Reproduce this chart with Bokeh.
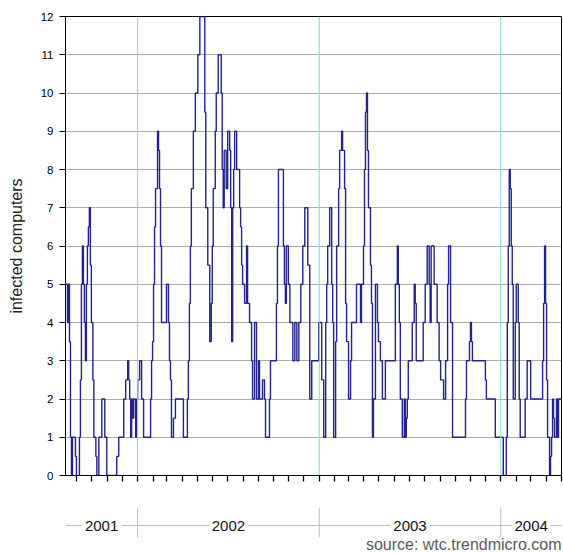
import pandas as pd
from bokeh.plotting import figure
from bokeh.models import Range1d, FixedTicker, Span, Label, CustomLabelingPolicy
from bokeh.layouts import column
from bokeh.embed import file_html
from bokeh.resources import INLINE

# Daily count of infected computers, stored as change points of a step series
change_dates = [
    "2001-08-09", "2001-08-13", "2001-08-15", "2001-08-17", "2001-08-19", "2001-08-21",
    "2001-08-23", "2001-08-29", "2001-08-31", "2001-09-06", "2001-09-08", "2001-09-10",
    "2001-09-12", "2001-09-14", "2001-09-16", "2001-09-18", "2001-09-20", "2001-09-22",
    "2001-09-24", "2001-09-26", "2001-09-28", "2001-09-30", "2001-10-03", "2001-10-05",
    "2001-10-09", "2001-10-11", "2001-10-15", "2001-10-21", "2001-10-27", "2001-10-31",
    "2001-11-20", "2001-11-24", "2001-12-04", "2001-12-08", "2001-12-12", "2001-12-14",
    "2001-12-16", "2001-12-18", "2001-12-20", "2001-12-22", "2001-12-24", "2001-12-28",
    "2001-12-30",
    "2002-01-01", "2002-01-05", "2002-01-09", "2002-01-13", "2002-01-27", "2002-01-29",
    "2002-01-31", "2002-02-02", "2002-02-04", "2002-02-06", "2002-02-10", "2002-02-12",
    "2002-02-14", "2002-02-16", "2002-02-18", "2002-02-28", "2002-03-04", "2002-03-06",
    "2002-03-08", "2002-03-10", "2002-03-14", "2002-03-18", "2002-04-03", "2002-04-11",
    "2002-04-13", "2002-04-15", "2002-04-17", "2002-04-19", "2002-04-23", "2002-04-27",
    "2002-05-02", "2002-05-06", "2002-05-16", "2002-05-18", "2002-05-22", "2002-05-26",
    "2002-05-29", "2002-05-31", "2002-06-02", "2002-06-06", "2002-06-08", "2002-06-12",
    "2002-06-18", "2002-06-20", "2002-06-22", "2002-06-24", "2002-06-28", "2002-07-01",
    "2002-07-05", "2002-07-07", "2002-07-09", "2002-07-11", "2002-07-13", "2002-07-15",
    "2002-07-19", "2002-07-25", "2002-07-27", "2002-07-29", "2002-07-31", "2002-08-04",
    "2002-08-08", "2002-08-10", "2002-08-14", "2002-08-18", "2002-08-20", "2002-08-24",
    "2002-08-28", "2002-09-01", "2002-09-03", "2002-09-09", "2002-09-13", "2002-09-15",
    "2002-09-23", "2002-09-25", "2002-10-07", "2002-10-09", "2002-10-11", "2002-10-21",
    "2002-10-23", "2002-10-25", "2002-10-27", "2002-10-31", "2002-11-03", "2002-11-09",
    "2002-11-13", "2002-11-17", "2002-11-21", "2002-11-25", "2002-11-29", "2002-12-03",
    "2002-12-09", "2002-12-13", "2002-12-17", "2002-12-31",
    "2003-01-06", "2003-01-10", "2003-01-14", "2003-01-16", "2003-01-18", "2003-01-22",
    "2003-01-26", "2003-01-28", "2003-01-30", "2003-02-03", "2003-02-05", "2003-02-09",
    "2003-02-11", "2003-02-15", "2003-02-17", "2003-02-21", "2003-02-23", "2003-02-25",
    "2003-03-01", "2003-03-05", "2003-03-07", "2003-03-17", "2003-03-25", "2003-03-27",
    "2003-03-31", "2003-04-02", "2003-04-04", "2003-04-06", "2003-04-08", "2003-04-10",
    "2003-04-14", "2003-04-16", "2003-04-18", "2003-04-20", "2003-04-24", "2003-04-28",
    "2003-04-30", "2003-05-04", "2003-05-08", "2003-05-14", "2003-06-03", "2003-06-07",
    "2003-06-09", "2003-06-11", "2003-06-13", "2003-06-17", "2003-06-21", "2003-06-23",
    "2003-06-25", "2003-06-27", "2003-06-29", "2003-07-07", "2003-07-11", "2003-07-13",
    "2003-07-15", "2003-07-29", "2003-08-02", "2003-08-06", "2003-08-10", "2003-08-12",
    "2003-08-14", "2003-08-20", "2003-08-26", "2003-08-30", "2003-09-02", "2003-09-08",
    "2003-09-12", "2003-09-16", "2003-09-18", "2003-09-22", "2003-09-26", "2003-10-22",
    "2003-10-24", "2003-10-30", "2003-11-01", "2003-11-03", "2003-11-05", "2003-12-01",
    "2003-12-03", "2003-12-21",
    "2004-01-06", "2004-01-12", "2004-01-14", "2004-01-16", "2004-01-18", "2004-01-20",
    "2004-01-22", "2004-01-24", "2004-01-26", "2004-01-30", "2004-02-01", "2004-02-05",
    "2004-02-07", "2004-02-09", "2004-02-19", "2004-02-23", "2004-03-01", "2004-03-25",
    "2004-03-27", "2004-03-29", "2004-03-31", "2004-04-02", "2004-04-04", "2004-04-08",
    "2004-04-10", "2004-04-12", "2004-04-14", "2004-04-16", "2004-04-18", "2004-04-22",
    "2004-04-24", "2004-04-26",
]
infected = [
    5, 4, 5, 3.5, 1, 0,
    1, 0.5, 0, 1, 2.5, 5,
    6, 5, 4, 3, 5, 6,
    6.5, 7, 5.5, 4, 2.5, 1,
    0.5, 0, 1, 2, 1, 0,
    0.5, 1, 2, 2.5, 3, 2.5,
    2, 1, 2, 1.5, 2, 1,
    2,
    2.5, 3, 2, 1, 2, 3,
    3.5, 5, 6.5, 7.5, 9, 8.5,
    7.5, 6, 4, 5, 4, 3,
    2.5, 1, 1.5, 2, 1, 2,
    3, 4.5, 6, 7.5, 9, 10,
    11, 12, 9.5, 7, 5.5, 3.5,
    4.5, 6, 7.5, 9, 10, 11,
    10, 8, 7, 8.5, 7.5, 9,
    8.5, 7, 3.5, 7, 8, 9,
    8, 7, 6.5, 5.5, 5, 4.5,
    6, 4.5, 4, 3, 2, 4,
    2, 3, 2, 2.5, 2, 1,
    2, 3, 4.5, 6, 8, 6,
    5, 4.5, 6, 5, 4, 3,
    4, 3, 4, 5, 6, 7,
    5.5, 2, 3, 4,
    2.5, 1, 4, 5, 6, 7,
    5, 4, 1, 3.5, 6, 7.5,
    8.5, 9, 8.5, 7.5, 4.5, 3.5,
    2, 3, 4, 5, 4, 5,
    6, 8, 9.5, 10, 8.5, 7,
    5.5, 4.5, 1, 2, 5, 4,
    3.5, 3, 2, 3, 5, 6,
    5, 4, 2, 1, 2, 1,
    1.5, 2, 3, 4, 5, 4.5,
    3, 4, 5, 6, 5, 4,
    6, 5, 4, 3, 2.5, 2,
    3, 5, 6, 4, 1, 2,
    3, 3.5, 4, 3.5, 3, 2.5,
    2, 1,
    0, 1, 4, 6, 8, 7.5,
    6, 5, 2, 4, 5, 4,
    2, 1, 2, 3, 2, 3,
    4.5, 6, 4.5, 2.5, 1, 0,
    0.5, 1, 2, 1.5, 1, 2,
    1, 2,
]

period_start = "2001-08-09"
period_end = "2004-05-02"
year_labels = ["2001", "2002", "2003", "2004"]
y_ticks = list(range(0, 13))
source_text = "source: wtc.trendmicro.com"

FONT = "Liberation Sans"
LINE_COLOR = "#22228a"


def ms(ts):
    return pd.Timestamp(ts).value / 1e6


x_start = pd.Timestamp(period_start)
x_end = pd.Timestamp(period_end)

# hold the last value up to the end of the period
step_x = pd.to_datetime(change_dates + [period_end])
step_y = infected + [infected[-1]]

p = figure(
    width=563, height=497,
    x_range=Range1d(ms(x_start), ms(x_end)),
    y_range=Range1d(0, 12),
    output_backend="svg", toolbar_location=None, tools="",
    min_border_left=65, min_border_right=2, min_border_top=16, min_border_bottom=20,
    background_fill_color="white", border_fill_color="white",
    outline_line_color="black", outline_line_width=1,
)

# year boundaries in light cyan
year_starts = [pd.Timestamp(f"{y}-01-01") for y in year_labels[1:]]
for ys in year_starts:
    p.add_layout(Span(location=ms(ys), dimension="height",
                      line_color="#86d3dc", line_width=1))

p.step(step_x, step_y, mode="after", line_color=LINE_COLOR, line_width=1.4)

# y axis
p.yaxis.ticker = FixedTicker(ticks=y_ticks)
p.yaxis.minor_tick_line_color = None
p.yaxis.major_tick_out = 6
p.yaxis.major_tick_in = 0
p.yaxis.major_label_standoff = 6
p.yaxis.major_label_text_font = FONT
p.yaxis.major_label_text_font_size = "11.5px"
p.yaxis.major_label_text_color = "black"
p.yaxis.axis_label = "infected computers"
p.yaxis.axis_label_text_font = FONT
p.yaxis.axis_label_text_font_size = "16px"
p.yaxis.axis_label_text_font_style = "normal"
p.yaxis.axis_label_text_color = "#222222"
p.yaxis.axis_label_standoff = 13
p.yaxis.axis_line_color = "black"
p.yaxis.major_tick_line_color = "black"

# x axis: tick marks at each month start, no tick labels
month_starts = [ms(t) for t in pd.date_range("2001-09-01", x_end, freq="MS")]
p.xaxis.ticker = FixedTicker(ticks=month_starts)
p.xaxis.minor_tick_line_color = None
p.xaxis.major_tick_out = 6
p.xaxis.major_tick_in = 0
p.xaxis.major_tick_line_width = 1.3
p.xaxis.major_label_policy = CustomLabelingPolicy(
    code="for (const i of indices) indices.unset(i); return indices")
p.xaxis.axis_line_color = "black"
p.xaxis.major_tick_line_color = "black"

p.xgrid.grid_line_color = None
p.ygrid.ticker = FixedTicker(ticks=y_ticks)
p.ygrid.grid_line_color = "#ababab"
p.ygrid.grid_line_width = 1

# strip underneath with year names and the source note
q = figure(
    width=563, height=56,
    x_range=p.x_range, y_range=Range1d(0, 56),
    x_axis_location=None, y_axis_location=None,
    output_backend="svg", toolbar_location=None, tools="",
    min_border_left=65, min_border_right=2, min_border_top=0, min_border_bottom=0,
    outline_line_color=None, background_fill_color="white", border_fill_color="white",
)
q.xgrid.visible = False
q.ygrid.visible = False

q.segment(x0=[ms(x_start)], y0=[28], x1=[ms(x_end)], y1=[28],
          line_color="#bdbdbd", line_width=1)
q.segment(x0=[ms(t) for t in year_starts], y0=16,
          x1=[ms(t) for t in year_starts], y1=46,
          line_color="#bdbdbd", line_width=1)

for y in year_labels:
    a = max(x_start, pd.Timestamp(f"{y}-01-01"))
    b = min(x_end, pd.Timestamp(f"{int(y) + 1}-01-01"))
    mid = (ms(a) + ms(b)) / 2
    q.add_layout(Label(x=mid, y=28, text=y, text_align="center", text_baseline="middle",
                       text_font=FONT, text_font_size="15px", text_color="#111111",
                       background_fill_color="white", padding=3))

q.add_layout(Label(x=ms(x_end), y=9, text=source_text, text_align="right",
                   text_baseline="middle", text_font=FONT, text_font_size="16px",
                   text_color="#5a5a5a"))

layout = column(p, q, spacing=0)
open("out.html", "w").write(file_html(layout, INLINE))
